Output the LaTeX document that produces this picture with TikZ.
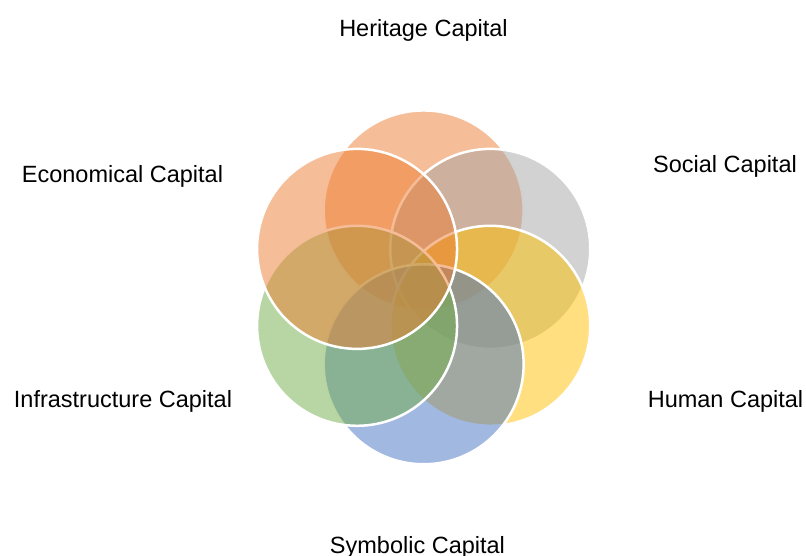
\documentclass[tikz,border=0pt]{standalone}
\usepackage{fontspec}
\setmainfont{Liberation Sans}
\usetikzlibrary{calc}
\definecolor{capOrange}{HTML}{ED7D31}
\definecolor{capGray}{HTML}{A5A5A5}
\definecolor{capGold}{HTML}{FFC000}
\definecolor{capBlue}{HTML}{4472C4}
\definecolor{capGreen}{HTML}{70AD47}
\tikzset{%
	capital/.style = {draw=white, circle, line width=2.5pt, fill opacity=0.5, minimum size=200pt, inner sep=0pt}, % Circle
	capname/.style = {font=\fontsize{23.5}{28}\selectfont, anchor=base, inner sep=0pt}, % Caption
}
\begin{document}
\begin{tikzpicture}[x=1pt,y=1pt]
	\useasboundingbox (0,0) rectangle (806,556);
	\coordinate (c) at (423.65,268.65);
	
	\node [capital,fill=capOrange] (heritage) at ($(c)+(90:76.9)$) {};
	\node [capital,fill=capGray] (social) at ($(c)+(30:76.9)$) {};
	\node [capital,fill=capGold] (human) at ($(c)+(-30:76.9)$) {};
	\node [capital,fill=capBlue] (symbolic) at ($(c)+(-90:76.9)$) {};
	\node [capital,fill=capGreen] (infra) at ($(c)+(-150:76.9)$) {};
	\node [capital,fill=capOrange] (economical) at ($(c)+(150:76.9)$) {};
	
	\node [capname] (heritagename) at (423.5,519) {Heritage Capital};
	\node [capname] (socialname) at (725,383) {Social Capital};
	\node [capname] (humanname) at (725.5,148) {Human Capital};
	\node [capname] (symbolicname) at (417.5,2) {Symbolic Capital};
	\node [capname] (infraname) at (123,148) {Infrastructure Capital};
	\node [capname] (economicalname) at (122.5,373) {Economical Capital};
\end{tikzpicture}
\end{document}
